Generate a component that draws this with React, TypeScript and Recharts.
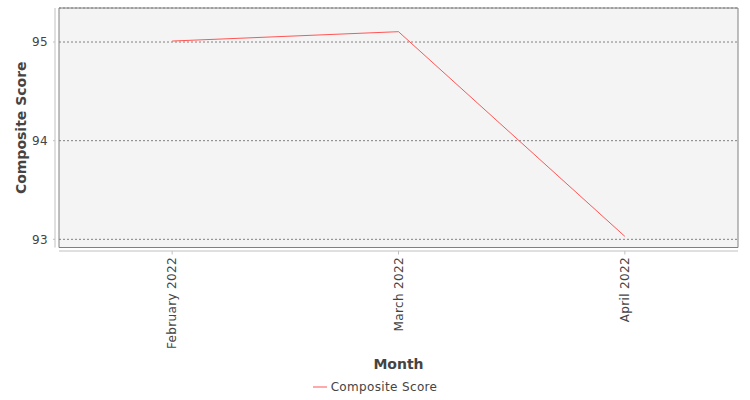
import React from 'react';
import { LineChart, Line, XAxis, YAxis, CartesianGrid, ReferenceArea, ReferenceLine, Legend } from 'recharts';

const months = ['February 2022', 'March 2022', 'April 2022'];
const compositeScore = [95.01, 95.105, 93.03];
const yTicks = [93, 94, 95];
const yDomain: [number, number] = [92.917, 95.345];

const data = months.map((month, i) => ({ idx: i, month, score: compositeScore[i] }));

const FONT = '"DejaVu Sans", sans-serif';
const TEXT = '#444444';
const AXIS = '#c0c0c0';
const SPACING = 0.35;
const TICK_MARGIN_Y = 11;
const TICK_MARGIN_X = 9.5;

const YTick = (props: any) => {
  const { x, y, payload } = props;
  return (
    <g>
      <line x1={x + TICK_MARGIN_Y - 6} x2={x + TICK_MARGIN_Y - 4} y1={y} y2={y} stroke={AXIS} />
      <text x={x} y={y} dy="0.36em" textAnchor="end" fontSize={12} letterSpacing={SPACING} fontFamily={FONT} fill={TEXT}>
        {payload.value}
      </text>
    </g>
  );
};

const XTick = (props: any) => {
  const { x, y, payload } = props;
  return (
    <g>
      <line x1={x} x2={x} y1={y - 6} y2={y - 2.5} stroke={AXIS} />
      <text
        x={x}
        y={y}
        dy="0.36em"
        textAnchor="end"
        transform={`rotate(-90, ${x}, ${y})`}
        fontSize={12}
        letterSpacing={SPACING}
        fontFamily={FONT}
        fill={TEXT}
      >
        {months[payload.value]}
      </text>
    </g>
  );
};

const LegendContent = () => (
  <div
    style={{
      display: 'flex',
      justifyContent: 'center',
      alignItems: 'center',
      gap: 4,
      fontFamily: FONT,
      fontSize: 12,
      letterSpacing: SPACING,
      lineHeight: '14px',
      color: TEXT,
    }}
  >
    <svg width={14} height={2}>
      <line x1={0} x2={14} y1={1} y2={1} stroke="#ff5555" />
    </svg>
    <span>Composite Score</span>
  </div>
);

export default function App() {
  return (
    <div style={{ position: 'absolute', left: 0, top: 0 }}>
      <LineChart width={750} height={400} data={data} margin={{ top: 8, right: 12, bottom: 0, left: 0 }}>
        <CartesianGrid vertical={false} fill="#f4f4f4" stroke="#808080" strokeDasharray="2 2" />
        <XAxis
          type="number"
          dataKey="idx"
          domain={[-0.5, 2.5]}
          ticks={[0, 1, 2]}
          height={152.5}
          axisLine={false}
          tickLine={false}
          tickSize={0}
          tickMargin={TICK_MARGIN_X}
          tick={<XTick />}
          interval={0}
          label={{
            content: (p: any) => {
              const vb = p.viewBox;
              return (
                <text
                  x={vb.x + vb.width / 2}
                  y={vb.y + 121.8}
                  textAnchor="middle"
                  fontSize={14}
                  fontWeight="bold"
                  fontFamily={FONT}
                  fill={TEXT}
                >
                  Month
                </text>
              );
            },
          }}
        />
        <YAxis
          type="number"
          domain={yDomain}
          ticks={yTicks}
          allowDataOverflow
          width={59}
          axisLine={false}
          tickLine={false}
          tickSize={0}
          tickMargin={TICK_MARGIN_Y}
          tick={<YTick />}
          label={{
            content: (p: any) => {
              const vb = p.viewBox;
              const cx = vb.x + 26;
              const cy = vb.y + vb.height / 2;
              return (
                <text
                  x={cx}
                  y={cy}
                  textAnchor="middle"
                  transform={`rotate(-90, ${cx}, ${cy})`}
                  fontSize={14}
                  fontWeight="bold"
                  fontFamily={FONT}
                  fill={TEXT}
                >
                  Composite Score
                </text>
              );
            },
          }}
        />
        <ReferenceArea
          x1={-0.5}
          x2={2.5}
          y1={yDomain[0]}
          y2={yDomain[1]}
          fill="none"
          fillOpacity={0}
          stroke="#808080"
          strokeOpacity={1}
          ifOverflow="visible"
        />
        <ReferenceLine
          x={-0.5}
          ifOverflow="visible"
          stroke={AXIS}
          shape={(p: any) => <line x1={p.x1 - 4} x2={p.x2 - 4} y1={p.y1} y2={p.y2} stroke={AXIS} />}
        />
        <ReferenceLine
          y={yDomain[0]}
          ifOverflow="visible"
          stroke={AXIS}
          shape={(p: any) => <line x1={p.x1} x2={p.x2} y1={p.y1 + 3.5} y2={p.y2 + 3.5} stroke={AXIS} />}
        />
        <Line
          type="linear"
          dataKey="score"
          name="Composite Score"
          stroke="#ff5555"
          strokeWidth={1}
          dot={false}
          activeDot={false}
          isAnimationActive={false}
        />
        <Legend
          verticalAlign="middle"
          align="center"
          content={<LegendContent />}
          wrapperStyle={{ top: 380, left: 0, width: 750 }}
        />
      </LineChart>
    </div>
  );
}
